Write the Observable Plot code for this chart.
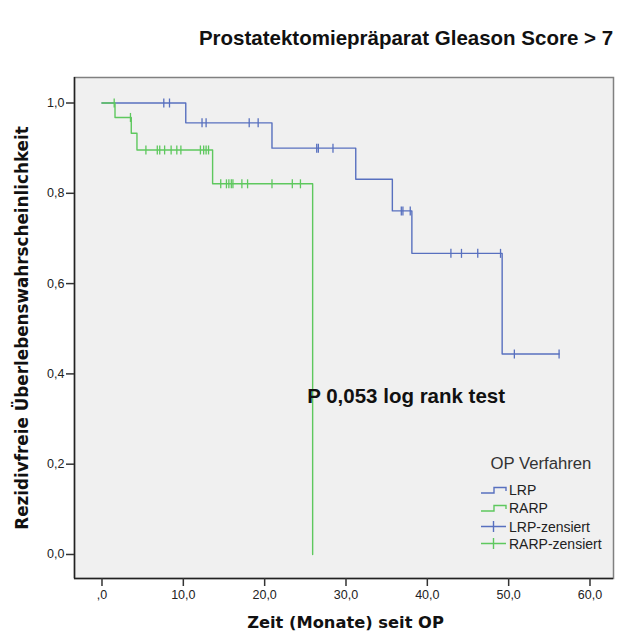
<!DOCTYPE html>
<html><head><meta charset="utf-8">
<script src="https://cdn.jsdelivr.net/npm/d3@7"></script>
<script src="https://cdn.jsdelivr.net/npm/@observablehq/plot@0.6"></script>
<style>
body{margin:0;background:#fff;}
#wrap{position:relative;width:619px;height:637px;font-family:"Liberation Sans",Arial,sans-serif;}
#legend{position:absolute;left:478px;top:452px;}
</style></head>
<body><div id="wrap"><div id="chart"></div><div id="legend"></div></div>
<script>
// Kaplan-Meier step points (time in months, survival)
const lrpTime = [0, 10.3, 20.9, 31.2, 35.7, 38.1, 49.2, 56.2];
const lrpSurv = [1.0, 0.956, 0.900, 0.831, 0.761, 0.667, 0.444, 0.444];
const rarpTime = [0, 1.6, 3.6, 4.3, 13.6, 25.9];
const rarpSurv = [1.0, 0.968, 0.933, 0.896, 0.821, 0.0];
// censored observations
const lrpCensTime = [7.6, 8.3, 12.3, 12.8, 18.1, 19.2, 26.4, 26.6, 28.4, 36.8, 37.0, 37.9, 42.9, 44.2, 46.2, 49.0, 50.7, 56.2];
const lrpCensSurv = [1.0, 1.0, 0.956, 0.956, 0.956, 0.956, 0.900, 0.900, 0.900, 0.761, 0.761, 0.761, 0.667, 0.667, 0.667, 0.667, 0.444, 0.444];
const rarpCensTime = [1.5, 3.5, 5.4, 6.8, 7.1, 7.7, 8.5, 9.2, 9.7, 12.1, 12.5, 12.8, 13.1, 14.6, 15.3, 15.6, 15.9, 16.1, 17.2, 17.9, 20.9, 23.4, 24.4];
const rarpCensSurv = [1.0, 0.968, 0.896, 0.896, 0.896, 0.896, 0.896, 0.896, 0.896, 0.896, 0.896, 0.896, 0.896, 0.821, 0.821, 0.821, 0.821, 0.821, 0.821, 0.821, 0.821, 0.821, 0.821];
const xTicks = [0, 10, 20, 30, 40, 50, 60];
const yTicks = [0, 0.2, 0.4, 0.6, 0.8, 1.0];
const groups = ["LRP", "RARP"];
const colors = ["#5870bf", "#5ec85e"];
const legendLabels = ["LRP", "RARP", "LRP-zensiert", "RARP-zensiert"];
const titleText = "Prostatektomiepräparat Gleason Score > 7";
const xLabel = "Zeit (Monate) seit OP";
const yLabel = "Rezidivfreie Überlebenswahrscheinlichkeit";
const annotation = "P 0,053 log rank test";

const xDomain = [-3.38, 62.89];
const yDomain = [-0.0532, 1.0565];

const steps = [
  ...lrpTime.map((t, i) => ({group: "LRP", t, s: lrpSurv[i]})),
  ...rarpTime.map((t, i) => ({group: "RARP", t, s: rarpSurv[i]}))
];
const cens = [
  ...lrpCensTime.map((t, i) => ({group: "LRP", t, s: lrpCensSurv[i]})),
  ...rarpCensTime.map((t, i) => ({group: "RARP", t, s: rarpCensSurv[i]}))
];
const vtick = {draw(ctx) { ctx.moveTo(0, -4.5); ctx.lineTo(0, 4.5); }};
const fmt = d => d === 0 ? ",0" : d.toFixed(1).replace(".", ",");
const fmtY = d => d.toFixed(1).replace(".", ",");

const chart = Plot.plot({
  width: 619, height: 637,
  marginLeft: 74, marginRight: 6, marginTop: 77, marginBottom: 59,
  style: {fontFamily: "'Liberation Sans', Arial, sans-serif", fontSize: "12.5px", color: "#222", background: "#fff"},
  x: {domain: xDomain, ticks: xTicks, tickFormat: fmt, label: null},
  y: {domain: yDomain, ticks: yTicks, tickFormat: fmtY, label: null},
  color: {domain: groups, range: colors},
  marks: [
    Plot.frame({fill: "#f0f0f0", stroke: "#808080", strokeWidth: 1.5}),
    Plot.ruleX([xDomain[0]], {stroke: "#222", strokeWidth: 1.5}),
    Plot.ruleY([yDomain[0]], {stroke: "#222", strokeWidth: 1.5}),
    Plot.axisX({ticks: xTicks, tickFormat: fmt, tickSize: 8, tickPadding: 4, stroke: "#333", strokeWidth: 1.5, label: null, fontSize: 12.5}),
    Plot.axisY({ticks: yTicks, tickFormat: fmtY, tickSize: 8, tickPadding: 2, stroke: "#333", strokeWidth: 1.5, label: null, fontSize: 12.5}),
    Plot.line(steps, {x: "t", y: "s", z: "group", stroke: "group", curve: "step-after", strokeWidth: 1.4}),
    Plot.dot(cens, {x: "t", y: "s", stroke: "group", symbol: vtick, r: 4, strokeWidth: 1.3}),
    Plot.text([annotation], {x: 25.23, y: 0.35, textAnchor: "start", fontSize: 20.5, fontWeight: "bold", fill: "#111"}),
    Plot.text([titleText], {frameAnchor: "top-left", dx: 331.5, dy: -47, textAnchor: "middle", fontSize: 20.5, fontWeight: "bold", fill: "#111"}),
    Plot.text([yLabel], {frameAnchor: "left", dx: -52, rotate: -90, textAnchor: "middle", fontSize: 16.8, fontWeight: "bold", fontFamily: "'DejaVu Sans', sans-serif", fill: "#111"}),
    Plot.text([xLabel], {frameAnchor: "bottom", dx: 1.5, dy: 49, textAnchor: "middle", fontSize: 16.3, fontWeight: "bold", fontFamily: "'DejaVu Sans', sans-serif", fill: "#111"})
  ]
});
document.getElementById("chart").appendChild(chart);

// legend
const lg = d3.select("#legend").append("svg").attr("width", 135).attr("height", 100)
  .style("font-family", "'Liberation Sans', Arial, sans-serif");
lg.append("text").attr("x", 12.5).attr("y", 11).attr("dominant-baseline", "central")
  .attr("font-size", 16.7).attr("fill", "#333").text("OP Verfahren");
const rowY = [38, 56, 74.5, 91.5];
legendLabels.forEach((lab, i) => {
  const y = rowY[i];
  const c = colors[i % 2];
  if (i < 2) {
    lg.append("path").attr("d", `M3,${y + 3}H16V${y - 2.5}H28V${y + 1}`)
      .attr("fill", "none").attr("stroke", c).attr("stroke-width", 1.4);
  } else {
    lg.append("path").attr("d", `M3,${y}H28M15.5,${y - 5.5}V${y + 5.5}`)
      .attr("fill", "none").attr("stroke", c).attr("stroke-width", 1.4);
  }
  lg.append("text").attr("x", 31).attr("y", y).attr("dominant-baseline", "central")
    .attr("font-size", 14).attr("fill", "#222").text(lab);
});
</script>
</body></html>
